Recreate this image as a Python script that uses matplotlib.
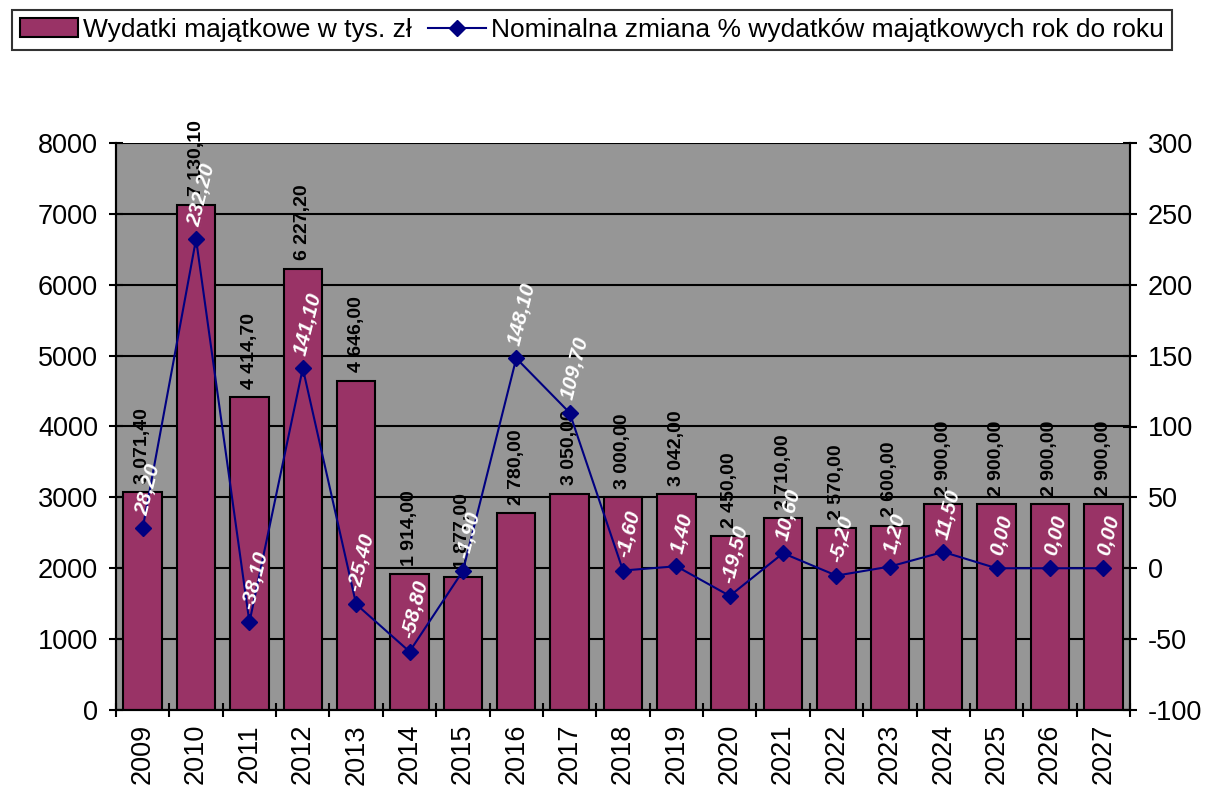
import matplotlib.pyplot as plt
from matplotlib.lines import Line2D
from matplotlib.patches import Patch

years = ['2009', '2010', '2011', '2012', '2013', '2014', '2015', '2016', '2017', '2018',
         '2019', '2020', '2021', '2022', '2023', '2024', '2025', '2026', '2027']
wydatki = [3071.4, 7130.1, 4414.7, 6227.2, 4646.0, 1914.0, 1877.0, 2780.0, 3050.0, 3000.0,
           3042.0, 2450.0, 2710.0, 2570.0, 2600.0, 2900.0, 2900.0, 2900.0, 2900.0]
wydatki_labels = ['3 071,40', '7 130,10', '4 414,70', '6 227,20', '4 646,00', '1 914,00',
                  '1 877,00', '2 780,00', '3 050,00', '3 000,00', '3 042,00', '2 450,00',
                  '2 710,00', '2 570,00', '2 600,00', '2 900,00', '2 900,00', '2 900,00', '2 900,00']
zmiana = [28.2, 232.2, -38.1, 141.1, -25.4, -58.8, -1.9, 148.1, 109.7, -1.6,
          1.4, -19.5, 10.6, -5.2, 1.2, 11.5, 0.0, 0.0, 0.0]

plt.rcParams['font.family'] = ['Liberation Sans', 'DejaVu Sans']
plt.rcParams['axes.unicode_minus'] = False

fig = plt.figure(figsize=(12.05, 7.87), dpi=100)
ax = fig.add_axes([116 / 1205, 1 - 710 / 787, (1130 - 116) / 1205, (710 - 143) / 787])
ax.set_facecolor('#969696')

x = list(range(len(years)))
ax.bar(x, wydatki, width=0.72, color='#993366', edgecolor='black', linewidth=1.5, zorder=3)
ax.set_ylim(0, 8000)
ax.set_xlim(-0.5, len(years) - 0.5)
ax.set_yticks(range(0, 8001, 1000))
ax.yaxis.grid(True, color='black', linewidth=1.5, zorder=0)
ax.set_axisbelow(True)

for xi, v, lab in zip(x, wydatki, wydatki_labels):
    ax.annotate(lab, (xi, v), xytext=(0, 6), textcoords='offset points',
                rotation=90, ha='center', va='bottom',
                fontsize=14, fontweight='bold', color='black', zorder=6)

ax2 = ax.twinx()
ax2.plot(x, zmiana, color='#000080', linewidth=1.5, marker='D', markersize=8, zorder=4)
ax2.set_ylim(-100, 300)
ax2.set_yticks(range(-100, 301, 50))
for xi, v in zip(x, zmiana):
    lab = f'{v:.2f}'.replace('.', ',')
    ax2.annotate(lab, (xi, v), xytext=(4, 8), textcoords='offset points',
                 rotation=76, ha='center', va='bottom',
                 fontsize=15, fontweight='bold', fontstyle='italic', color='white', zorder=7)

# x ticks at category boundaries, labels centred
ax.set_xticks([i - 0.5 for i in range(len(years) + 1)])
ax.set_xticklabels([])
ax.set_xticks(x, minor=True)
ax.set_xticklabels(years, minor=True, rotation=90, fontsize=19.5)
ax.tick_params(axis='x', which='minor', length=0, pad=10)
ax.tick_params(axis='x', which='major', direction='inout', length=10, width=1.5)
ax.tick_params(axis='y', direction='inout', length=10, width=1.5, labelsize=19.5, pad=8)
ax2.tick_params(axis='y', direction='inout', length=10, width=1.5, labelsize=19.5, pad=8)

for a in (ax, ax2):
    a.spines['top'].set_visible(False)
    for s in ('left', 'right', 'bottom'):
        a.spines[s].set_linewidth(1.5)

handles = [Patch(facecolor='#993366', edgecolor='black', linewidth=1.5),
           Line2D([0], [0], color='#000080', marker='D', markersize=8, linewidth=1.5)]
labels = ['Wydatki majątkowe w tys. zł',
          'Nominalna zmiana % wydatków majątkowych rok do roku']
leg = fig.legend(handles, labels, loc='upper left', bbox_to_anchor=(12 / 1205, 1 - 10 / 787),
                 ncol=2, fontsize=19, frameon=True, fancybox=False, edgecolor='black',
                 handlelength=2.2, handletextpad=0.2, columnspacing=0.6, borderpad=0.3,
                 borderaxespad=0)
leg.get_frame().set_linewidth(1.5)

fig.savefig('out.png', dpi=100)
